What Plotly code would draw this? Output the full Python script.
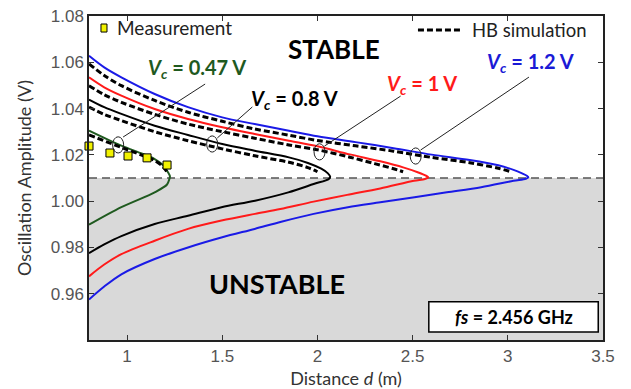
import plotly.graph_objects as go

# ---------------- data ----------------
# Solid curves: upper branch left->tip, lower branch tip->left
green_x = [0.80, 0.97, 1.08, 1.145, 1.19, 1.215, 1.225, 1.222, 1.21, 1.145, 0.97, 0.80]
green_y = [1.0305, 1.024, 1.0205, 1.0182, 1.0155, 1.0125, 1.0108, 1.0095, 1.0072, 1.0038, 0.9974, 0.9898]

black_x = [0.80, 0.88, 0.97, 1.145, 1.32, 1.50, 1.67, 1.85, 1.95, 2.02, 2.055, 2.067,
           2.06, 1.98, 1.847, 1.672, 1.496, 1.32, 1.145, 0.97, 0.88, 0.80]
black_y = [1.0439, 1.0406, 1.0377, 1.0326, 1.0286, 1.0247, 1.0218, 1.0189, 1.0165, 1.014, 1.012, 1.0105,
           1.0096, 1.0074, 1.0038, 1.0002, 0.9974, 0.9937, 0.9901, 0.9849, 0.9813, 0.9775]

red_x = [0.80, 0.88, 0.97, 1.145, 1.32, 1.50, 1.67, 1.85, 2.00, 2.17, 2.33, 2.45, 2.53, 2.57, 2.582,
         2.565, 2.507, 2.33, 2.156, 1.98, 1.805, 1.672, 1.496, 1.32, 1.145, 0.97, 0.88, 0.80]
red_y = [1.0535, 1.0492, 1.0456, 1.0398, 1.0355, 1.0319, 1.029, 1.0261, 1.0237, 1.0202, 1.0172, 1.0146, 1.0124, 1.011, 1.0103,
         1.0096, 1.0088, 1.0055, 1.0027, 0.9998, 0.9966, 0.9945, 0.9916, 0.988, 0.9829, 0.9771, 0.9726, 0.9675]

blue_x = [0.80, 0.88, 0.97, 1.145, 1.32, 1.50, 1.67, 1.85, 2.00, 2.20, 2.40, 2.60, 2.80, 2.95, 3.03, 3.075, 3.1, 3.108,
          3.095, 3.03, 2.86, 2.68, 2.51, 2.33, 2.16, 1.98, 1.81, 1.67, 1.50, 1.32, 1.145, 0.97, 0.88, 0.80]
blue_y = [1.0628, 1.0578, 1.0535, 1.0463, 1.0406, 1.0362, 1.0333, 1.0304, 1.028, 1.0255, 1.0229, 1.0201, 1.0178, 1.0155, 1.0135, 1.012, 1.011, 1.0103,
          1.0097, 1.0088, 1.006, 1.0038, 1.0017, 0.9995, 0.9974, 0.9945, 0.9911, 0.988, 0.9844, 0.980, 0.975, 0.9684, 0.9631, 0.9575]

# HB simulation (dashed)
hb_green_x = [0.80, 0.97, 1.08, 1.145, 1.19, 1.21]
hb_green_y = [1.0286, 1.0232, 1.0198, 1.0175, 1.0148, 1.0125]
hb_black_x = [0.80, 0.88, 0.97, 1.145, 1.32, 1.50, 1.67, 1.85, 1.95, 2.00]
hb_black_y = [1.0406, 1.0375, 1.0348, 1.0300, 1.0261, 1.0226, 1.0196, 1.0168, 1.0145, 1.0127]
hb_red_x = [0.80, 0.88, 0.97, 1.145, 1.32, 1.50, 1.67, 1.85, 2.00, 2.17, 2.30, 2.40, 2.45]
hb_red_y = [1.0499, 1.0460, 1.0427, 1.0375, 1.0333, 1.0300, 1.0272, 1.0243, 1.0222, 1.0190, 1.0162, 1.0140, 1.0127]
hb_blue_x = [0.80, 0.88, 0.97, 1.145, 1.32, 1.50, 1.67, 1.85, 2.00, 2.20, 2.40, 2.60, 2.80, 2.95, 3.02]
hb_blue_y = [1.0593, 1.0543, 1.0499, 1.0435, 1.0384, 1.0345, 1.0312, 1.0285, 1.0262, 1.0239, 1.0216, 1.0189, 1.0166, 1.0142, 1.0126]

# Measurement
meas_x = [0.80, 0.91, 1.005, 1.105, 1.21]
meas_y = [1.0238, 1.0208, 1.0195, 1.0187, 1.0156]

threshold = 1.01

# Annotation labels
label_text = ["<b><i>V<sub>c</sub></i> = 0.47 V</b>", "<b><i>V<sub>c</sub></i> = 0.8 V</b>",
              "<b><i>V<sub>c</sub></i> = 1 V</b>", "<b><i>V<sub>c</sub></i> = 1.2 V</b>"]
label_color = ["#1f5a1f", "#000000", "#ff1a1a", "#1a1ad6"]
label_x = [1.368, 1.879, 2.547, 3.121]
label_y = [1.0575, 1.0441, 1.0506, 1.0601]
circle_x = [0.953, 1.447, 2.011, 2.516]
circle_y = [1.0243, 1.0247, 1.0213, 1.0195]
lead_x0 = [0.979, 1.474, 2.037, 2.542]
lead_y0 = [1.0277, 1.0273, 1.0238, 1.0221]
lead_x1 = [1.41, 1.658, 2.437, 3.111]
lead_y1 = [1.0506, 1.0407, 1.0454, 1.0536]

x_ticks = [1, 1.5, 2, 2.5, 3, 3.5]
x_ticktext = ["1", "1.5", "2", "2.5", "3", "3.5"]
y_ticks = [0.96, 0.98, 1.00, 1.02, 1.04, 1.06, 1.08]

# ---------------- figure ----------------
fig = go.Figure()

solid = [(green_x, green_y, "#1f5a1f"), (black_x, black_y, "#000000"),
         (red_x, red_y, "#ff1a1a"), (blue_x, blue_y, "#1a1ae6")]
for xs, ys, c in solid:
    fig.add_trace(go.Scatter(x=xs, y=ys, mode="lines", line=dict(color=c, width=2, shape="spline", smoothing=0.9),
                             showlegend=False, hoverinfo="skip"))

for xs, ys in [(hb_green_x, hb_green_y), (hb_black_x, hb_black_y), (hb_red_x, hb_red_y), (hb_blue_x, hb_blue_y)]:
    fig.add_trace(go.Scatter(x=xs, y=ys, mode="lines",
                             line=dict(color="black", width=3, dash="6px,3px", shape="spline", smoothing=0.9),
                             showlegend=False, hoverinfo="skip"))

fig.add_trace(go.Scatter(x=meas_x, y=meas_y, mode="markers",
                         marker=dict(symbol="square", size=8, color="#f2f200", line=dict(color="black", width=1)),
                         showlegend=False, cliponaxis=False))

shapes = []
# unstable region
shapes.append(dict(type="rect", xref="x", yref="y", x0=0.8, x1=3.5, y0=0.94, y1=threshold,
                   fillcolor="#d9d9d9", line=dict(width=0), layer="below"))
shapes.append(dict(type="line", xref="x", yref="y", x0=0.8, x1=3.5, y0=threshold, y1=threshold,
                   line=dict(color="#555555", width=1.5, dash="8px,5px"), layer="below"))
for cx, cy in zip(circle_x, circle_y):
    shapes.append(dict(type="circle", xref="x", yref="y", x0=cx - 0.029, x1=cx + 0.029,
                       y0=cy - 0.0035, y1=cy + 0.0035, line=dict(color="#222222", width=1)))
for x0, y0, x1, y1 in zip(lead_x0, lead_y0, lead_x1, lead_y1):
    shapes.append(dict(type="line", xref="x", yref="y", x0=x0, y0=y0, x1=x1, y1=y1,
                       line=dict(color="#222222", width=1)))
# fs box
shapes.append(dict(type="rect", xref="x", yref="y", x0=2.585, x1=3.475, y0=0.9435, y1=0.9565,
                   fillcolor="white", line=dict(color="black", width=1.5)))
# legend symbols
shapes.append(dict(type="rect", xref="paper", yref="paper", x0=0.0233, x1=0.0350, y0=0.9505, y1=0.9753,
                   fillcolor="#f2f200", line=dict(color="black", width=1)))
shapes.append(dict(type="line", xref="paper", yref="paper", x0=0.640, x1=0.726, y0=0.957, y1=0.957,
                   line=dict(color="black", width=3, dash="6px,3px")))

ann = []
for t, c, x, y in zip(label_text, label_color, label_x, label_y):
    ann.append(dict(x=x, y=y, xref="x", yref="y", text=t, showarrow=False,
                    font=dict(family="Lato", size=20, color=c)))
ann.append(dict(x=2.089, y=1.0657, xref="x", yref="y", text="<b>STABLE</b>", showarrow=False,
                font=dict(family="Lato", size=26, color="black")))
ann.append(dict(x=1.789, y=0.9642, xref="x", yref="y", text="<b>UNSTABLE</b>", showarrow=False,
                font=dict(family="Lato", size=27, color="black")))
ann.append(dict(x=3.03, y=0.950, xref="x", yref="y", text="<b><i>fs</i> = 2.456 GHz</b>", showarrow=False,
                font=dict(family="Lato", size=18, color="black")))
ann.append(dict(x=0.05, y=0.963, xref="paper", yref="paper", text="Measurement", showarrow=False,
                xanchor="left", yanchor="middle", font=dict(family="Lato", size=19, color="#222222")))
ann.append(dict(x=0.742, y=0.957, xref="paper", yref="paper", text="HB simulation", showarrow=False,
                xanchor="left", yanchor="middle", font=dict(family="Lato", size=18.5, color="#222222")))

fig.update_layout(
    width=631, height=389,
    margin=dict(l=89, r=28, t=16, b=49),
    plot_bgcolor="white", paper_bgcolor="white",
    shapes=shapes, annotations=ann,
    showlegend=False,
)
fig.update_xaxes(range=[0.8, 3.5], tickvals=x_ticks, ticktext=x_ticktext, automargin=False,
                 ticks="inside", ticklen=5, tickcolor="#333", showline=True, linecolor="#222", linewidth=1.5,
                 mirror="ticks", showgrid=False, zeroline=False,
                 tickfont=dict(family="Liberation Sans", size=17, color="#555555"),
                 title=dict(text="Distance <i>d</i> (m)", font=dict(family="Lato", size=18, color="#333333"), standoff=9))
fig.update_yaxes(range=[0.94, 1.08], tickvals=y_ticks, tickformat=".2f", automargin=False,
                 ticks="inside", ticklen=5, tickcolor="#333", showline=True, linecolor="#222", linewidth=1.5,
                 mirror="ticks", showgrid=False, zeroline=False,
                 tickfont=dict(family="Liberation Sans", size=17, color="#555555"),
                 title=dict(text="Oscillation Amplitude (V)", font=dict(family="Lato", size=18, color="#333333"), standoff=14))

fig.write_html("out.html")
